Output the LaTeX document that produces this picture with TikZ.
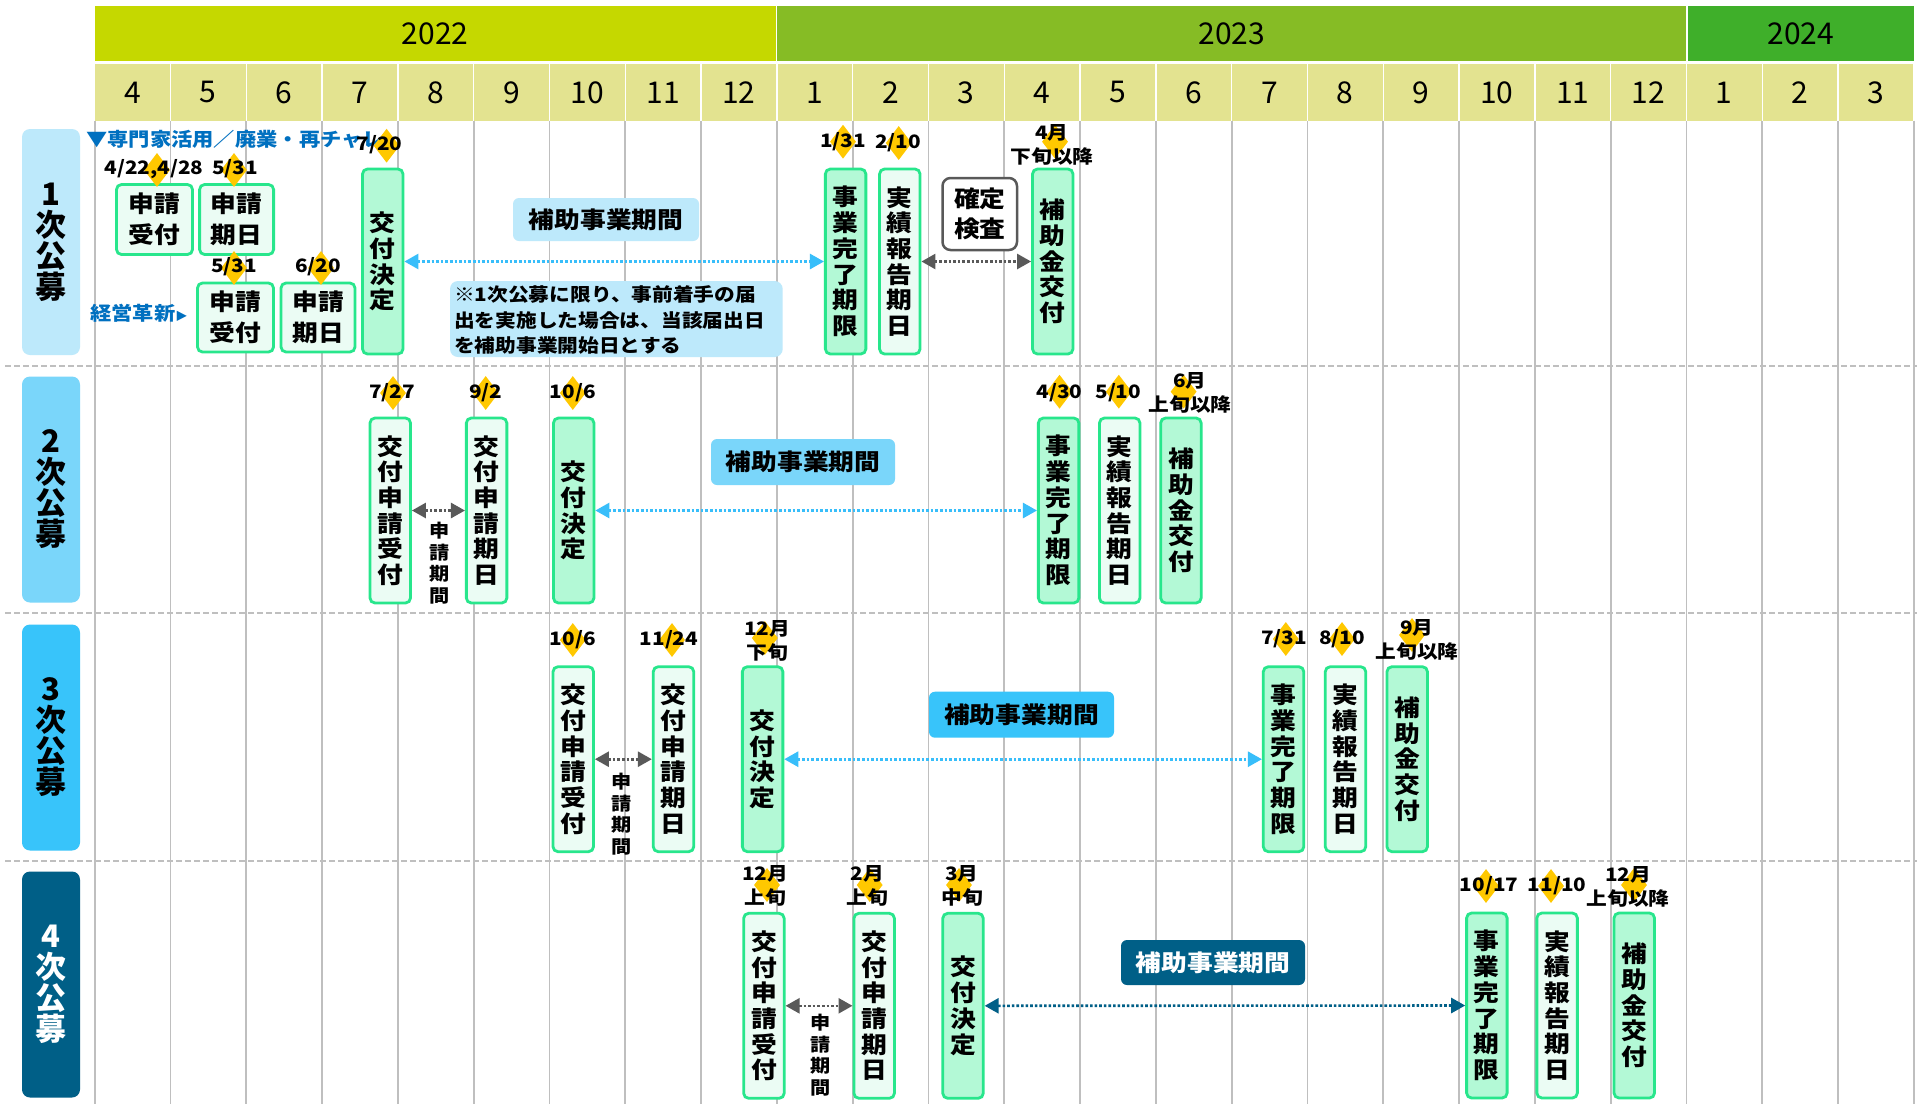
\documentclass[tikz,border=0pt]{standalone}
\usepackage{fontspec}
\setmainfont{Noto Sans CJK JP}
\newfontfamily\jp{Noto Sans CJK JP}[FakeStretch=1.12]
\usetikzlibrary{arrows.meta,shapes.geometric}
\definecolor{yA}{RGB}{197,216,0}
\definecolor{yB}{RGB}{134,188,37}
\definecolor{yC}{RGB}{63,175,42}
\definecolor{mon}{RGB}{227,227,144}
\definecolor{gridc}{RGB}{191,191,191}
\definecolor{bord}{RGB}{40,230,140}
\definecolor{mint}{RGB}{179,249,214}
\definecolor{pale}{RGB}{235,252,244}
\definecolor{dia}{RGB}{255,200,0}
\definecolor{rA}{RGB}{189,233,251}
\definecolor{rB}{RGB}{122,214,250}
\definecolor{rC}{RGB}{56,196,250}
\definecolor{rD}{RGB}{0,95,135}
\definecolor{blu}{RGB}{0,112,192}
\definecolor{gar}{RGB}{89,89,89}
\definecolor{arb}{RGB}{56,190,250}
\tikzset{
  ev/.style={draw=bord, line width=2.8pt, rounded corners=5pt, inner sep=0pt, align=center,
    font=\jp\bfseries\fontsize{23}{25.7}\selectfont},
  evm/.style={ev, fill=mint},
  evp/.style={ev, fill=pale},
  vsz/.style={minimum width=40.5pt, minimum height=185pt},
  hbox/.style={ev, fill=pale, minimum width=76pt, minimum height=70pt,
    font=\jp\bfseries\fontsize{23}{31}\selectfont},
  dmd/.style={diamond, fill=dia, minimum width=26pt, minimum height=34pt, inner sep=0pt},
  dl/.style={font=\jp\bfseries\fontsize{18.5}{24}\selectfont, align=center, inner sep=0pt},
  rowlab/.style={rounded corners=8pt, minimum width=58pt, minimum height=226pt, align=center,
    inner sep=0pt, font=\bfseries\fontsize{31}{31}\selectfont},
  period/.style={rounded corners=6pt, inner sep=0pt, minimum height=45pt, minimum width=185pt,
    font=\jp\bfseries\fontsize{23}{25}\selectfont},
  yearbar/.style={inner sep=0pt, minimum height=55pt, font=\fontsize{30}{30}\selectfont},
  moncell/.style={fill=mon, inner sep=0pt, minimum width=74.4pt, minimum height=56.7pt,
    font=\fontsize{30}{30}\selectfont},
  gridl/.style={draw=gridc, line width=1.8pt},
  sepl/.style={draw=gridc, line width=2pt, dash pattern=on 6pt off 3pt},
  pa/.style={line width=2.6pt, dash pattern=on 2.6pt off 2pt,
    {Triangle[length=14pt,width=15pt]}-{Triangle[length=14pt,width=15pt]}},
  blutxt/.style={text=blu, inner sep=0pt, font=\jp\bfseries\fontsize{19}{19}\selectfont},
  small/.style={inner sep=0pt, align=center, font=\jp\bfseries\fontsize{18}{21.7}\selectfont},
}
\begin{document}
\begin{tikzpicture}[x=1pt,y=-1pt]
\useasboundingbox (0,0) rectangle (1917,1104);
\fill[white] (0,0) rectangle (1917,1104);
% year bars
\node[yearbar, fill=yA, minimum width=681pt] (y2022) at (435.1,33.5) {2022};
\node[yearbar, fill=yB, minimum width=909.5pt] (y2023) at (1231.65,33.5) {2023};
\node[yearbar, fill=yC, minimum width=226.3pt] (y2024) at (1800.85,33.5) {2024};
% month cells
\foreach \m [count=\i from 0] in {4,5,6,7,8,9,10,11,12,1,2,3,4,5,6,7,8,9,10,11,12,1,2,3}{
  \node[moncell] (m\i) at ({94.6+75.8*\i+37.9},92.35) {\m};
}
% grid
\foreach \i in {0,...,24}{
  \draw[gridl] ({94.6+75.8*\i},120.7) -- ({94.6+75.8*\i},1104);
}
\foreach \yy in {365.7,613,861}{
  \draw[sepl] (5,\yy) -- (1917,\yy);
}
% row labels
\node[rowlab, fill=rA] (R1) at (51,242) {1\\次\\公\\募};
\node[rowlab, fill=rB] (R2) at (51,489.5) {2\\次\\公\\募};
\node[rowlab, fill=rC] (R3) at (51,737.5) {3\\次\\公\\募};
\node[rowlab, fill=rD, text=white] (R4) at (51,984.5) {4\\次\\公\\募};

% ---------------- row 1
\node[blutxt, anchor=west] (t1) at (86,139) {▼専門家活用／廃業・再チャレ};
\node[blutxt, anchor=west] (t2) at (90,313) {経営革新{\fontsize{11}{11}\selectfont ▶}};
\node[hbox] (b1a) at (154.5,219.5) {申請\\受付};
\node[hbox, minimum width=74pt] (b1b) at (236.6,219.5) {申請\\期日};
\node[hbox, minimum height=69pt] (b1c) at (235.5,317.5) {申請\\受付};
\node[hbox, minimum width=74pt, minimum height=69pt] (b1d) at (318,317.5) {申請\\期日};
\node[evm, vsz] (b1e) at (382.75,261.5) {交\\付\\決\\定};
\node[evm, vsz] (b1f) at (845.6,261.5) {事\\業\\完\\了\\期\\限};
\node[evp, vsz] (b1g) at (899.8,261.5) {実\\績\\報\\告\\期\\日};
\node[draw=gar, fill=white, line width=2.5pt, rounded corners=8pt, inner sep=0pt, align=center,
  minimum width=74.5pt, minimum height=72pt, font=\jp\bfseries\fontsize{23}{30}\selectfont]
  (b1h) at (979.75,214) {確定\\検査};
\node[evm, vsz] (b1i) at (1052.75,261.5) {補\\助\\金\\交\\付};
\node[period, fill=rA, minimum width=186pt, minimum height=43pt] (p1) at (606,219.5) {補助事業期間};
\node[fill=rA, rounded corners=8pt, minimum width=332.7pt, minimum height=76pt, inner sep=0pt]
  (n1) at (616.35,319) {};
\node[anchor=west, align=left, inner sep=0pt, font=\jp\bfseries\fontsize{18.5}{25.5}\selectfont]
  (n1t) at (454,320) {※1次公募に限り、事前着手の届\\出を実施した場合は、当該届出日\\を補助事業開始日とする};
\draw[pa, arb] (b1e.east) -- (b1f.west);
\draw[pa, gar] (b1g.east) -- (b1i.west);
\node[dmd] (D1a) at (157,170) {};
\node[dl] (L1a) at (154,169) {4/22,4/28};
\node[dmd] (D1b) at (234,170) {};
\node[dl] (L1b) at (235,169) {5/31};
\node[dmd] (D1c) at (234,268) {};
\node[dl] (L1c) at (234,267) {5/31};
\node[dmd] (D1d) at (321,268) {};
\node[dl] (L1d) at (318,267) {6/20};
\node[dmd] (D1e) at (386.6,145.7) {};
\node[dl] (L1e) at (379.5,145) {7/20};
\node[dmd] (D1f) at (843,141.7) {};
\node[dl] (L1f) at (843,142) {1/31};
\node[dmd] (D1g) at (898.7,143) {};
\node[dl] (L1g) at (898,142.5) {2/10};
\node[dmd] (D1i) at (1055,141.7) {};
\node[dl] (L1i) at (1052,145) {4月\\下旬以降};

% ---------------- row 2
\node[evp, vsz] (b2a) at (390.25,510.5) {交\\付\\申\\請\\受\\付};
\node[evp, vsz] (b2b) at (486.6,510.5) {交\\付\\申\\請\\期\\日};
\node[evm, vsz] (b2c) at (573.7,510.5) {交\\付\\決\\定};
\node[period, fill=rB, minimum width=184pt, minimum height=46pt] (p2) at (803,462) {補助事業期間};
\node[evm, vsz] (b2d) at (1058.6,510.5) {事\\業\\完\\了\\期\\限};
\node[evp, vsz] (b2e) at (1119.7,510.5) {実\\績\\報\\告\\期\\日};
\node[evm, vsz] (b2f) at (1180.9,510.5) {補\\助\\金\\交\\付};
\draw[pa, gar] (b2a.east) -- (b2b.west);
\draw[pa, arb] (b2c.east) -- (b2d.west);
\node[small] (s2) at (439.5,563) {申\\請\\期\\間};
\node[dmd] (D2a) at (393,393) {};
\node[dl] (L2a) at (392,393) {7/27};
\node[dmd] (D2b) at (485.7,393) {};
\node[dl] (L2b) at (485.7,393) {9/2};
\node[dmd] (D2c) at (572.8,393) {};
\node[dl] (L2c) at (572.8,393) {10/6};
\node[dmd] (D2d) at (1059.5,391.7) {};
\node[dl] (L2d) at (1059.5,393) {4/30};
\node[dmd] (D2e) at (1118.8,391.7) {};
\node[dl] (L2e) at (1118.3,393) {5/10};
\node[dmd] (D2f) at (1183.6,391.7) {};
\node[dl] (L2f) at (1190,393) {6月\\上旬以降};

% ---------------- row 3
\node[evp, vsz] (b3a) at (573.25,759.2) {交\\付\\申\\請\\受\\付};
\node[evp, vsz] (b3b) at (673.5,759.2) {交\\付\\申\\請\\期\\日};
\node[evm, vsz] (b3c) at (762.6,759.2) {交\\付\\決\\定};
\node[period, fill=rC, minimum width=185pt, minimum height=46pt] (p3) at (1021.5,714.7) {補助事業期間};
\node[evm, vsz] (b3d) at (1283.55,759.2) {事\\業\\完\\了\\期\\限};
\node[evp, vsz] (b3e) at (1345.5,759.2) {実\\績\\報\\告\\期\\日};
\node[evm, vsz] (b3f) at (1407.2,759.2) {補\\助\\金\\交\\付};
\draw[pa, gar] (b3a.east) -- (b3b.west);
\draw[pa, arb] (b3c.east) -- (b3d.west);
\node[small] (s3) at (622,814) {申\\請\\期\\間};
\node[dmd] (D3a) at (572.8,640) {};
\node[dl] (L3a) at (572.8,640) {10/6};
\node[dmd] (D3b) at (672,640) {};
\node[dl] (L3b) at (669,640) {11/24};
\node[dmd] (D3c) at (764.8,638) {};
\node[dl] (L3c) at (767,641) {12月\\下旬};
\node[dmd] (D3d) at (1285.8,639) {};
\node[dl] (L3d) at (1284,639) {7/31};
\node[dmd] (D3e) at (1342,639) {};
\node[dl] (L3e) at (1342,639) {8/10};
\node[dmd] (D3f) at (1412,635) {};
\node[dl] (L3f) at (1417,640) {9月\\上旬以降};

% ---------------- row 4
\node[evp, vsz] (b4a) at (763.9,1005.8) {交\\付\\申\\請\\受\\付};
\node[evp, vsz] (b4b) at (874.15,1005.8) {交\\付\\申\\請\\期\\日};
\node[evm, vsz] (b4c) at (963,1005.8) {交\\付\\決\\定};
\node[period, fill=rD, text=white, minimum width=184pt, minimum height=45pt] (p4) at (1213,962.5) {補助事業期間};
\node[evm, vsz] (b4d) at (1486.85,1005.5) {事\\業\\完\\了\\期\\限};
\node[evp, vsz] (b4e) at (1557.1,1005.5) {実\\績\\報\\告\\期\\日};
\node[evm, vsz] (b4f) at (1634.25,1005.5) {補\\助\\金\\交\\付};
\draw[pa, gar] (b4a.east) -- (b4b.west);
\draw[pa, rD] (b4c.east) -- (b4d.west);
\node[small] (s4) at (820.6,1055) {申\\請\\期\\間};
\node[dmd] (D4a) at (767,885) {};
\node[dl] (L4a) at (765,886) {12月\\上旬};
\node[dmd] (D4b) at (869.7,885) {};
\node[dl] (L4b) at (867.5,886) {2月\\上旬};
\node[dmd] (D4c) at (959,885) {};
\node[dl] (L4c) at (962,886) {3月\\中旬};
\node[dmd] (D4d) at (1486,886) {};
\node[dl] (L4d) at (1489,886) {10/17};
\node[dmd] (D4e) at (1551,886) {};
\node[dl] (L4e) at (1557,886) {11/10};
\node[dmd] (D4f) at (1634,885) {};
\node[dl] (L4f) at (1628,887) {12月\\上旬以降};
\end{tikzpicture}
\end{document}
